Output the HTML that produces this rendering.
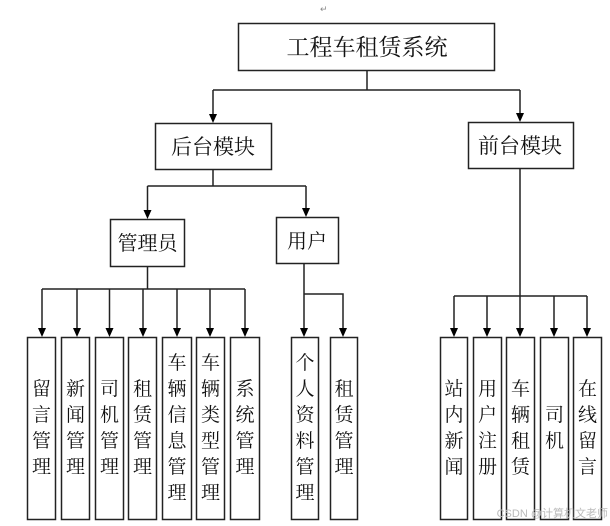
<!DOCTYPE html>
<html><head><meta charset="utf-8"><style>
html,body{margin:0;padding:0;background:#fff;}
svg{display:block;}
text{font-family:"Liberation Serif","Noto Serif CJK SC","Noto Sans CJK SC",serif;fill:#111;}
</style></head><body>
<svg width="610" height="526" viewBox="0 0 610 526" xmlns="http://www.w3.org/2000/svg">
<defs><marker id="a" markerWidth="8" markerHeight="10" refX="4" refY="10" orient="auto" markerUnits="userSpaceOnUse"><path d="M0,0 L8,0 L4,10 Z" transform="rotate(-90 4 5) translate(0 0)" fill="#000"/></marker></defs>
<g stroke="#222" stroke-width="1.5" fill="none">
<rect x="238.5" y="23.5" width="256" height="47"/>
<rect x="155.5" y="123.5" width="116" height="46"/>
<rect x="468.5" y="122.5" width="105" height="46"/>
<rect x="110.5" y="219.5" width="74" height="47"/>
<rect x="276.5" y="217.5" width="62" height="46"/>
<path d="M367 70V90M213 90H520"/>
<path d="M213 90V115M520 90V114"/>
<path d="M213 169V186M147.5 186H306M147.5 186V211M306 186V209"/>
<path d="M147.5 266V289M42 289H245"/>
<path d="M42 289V329M77 289V329M109.5 289V329M143 289V329M177 289V329M210 289V329M245 289V329"/>
<path d="M304 263V329M304 294H343V329"/>
<path d="M520 168V329M454 296H587M454 296V329M487 296V329M554 296V329M587 296V329"/>
<rect x="27.5" y="337.5" width="28" height="182"/>
<rect x="61.5" y="337.5" width="28" height="182"/>
<rect x="95.5" y="337.5" width="28" height="182"/>
<rect x="128.5" y="337.5" width="28" height="182"/>
<rect x="162.5" y="337.5" width="29" height="182"/>
<rect x="196.5" y="337.5" width="28" height="182"/>
<rect x="230.5" y="337.5" width="29" height="182"/>
<rect x="291.5" y="337.5" width="27" height="182"/>
<rect x="330.5" y="337.5" width="27" height="182"/>
<rect x="440.5" y="337.5" width="27" height="182"/>
<rect x="473.5" y="337.5" width="28" height="182"/>
<rect x="506.5" y="337.5" width="28" height="182"/>
<rect x="540.5" y="337.5" width="28" height="182"/>
<rect x="573.5" y="337.5" width="28" height="182"/>
</g>
<g fill="#000">
<path d="M209 114h8l-4 9z"/><path d="M516 113h8l-4 9z"/>
<path d="M143.5 210h8l-4 9z"/><path d="M302 208h8l-4 9z"/>
<path d="M38 328h8l-4 9z"/><path d="M73 328h8l-4 9z"/><path d="M105.5 328h8l-4 9z"/><path d="M139 328h8l-4 9z"/><path d="M173 328h8l-4 9z"/><path d="M206 328h8l-4 9z"/><path d="M241 328h8l-4 9z"/>
<path d="M300 328h8l-4 9z"/><path d="M339 328h8l-4 9z"/>
<path d="M450 328h8l-4 9z"/><path d="M483 328h8l-4 9z"/><path d="M516 328h8l-4 9z"/><path d="M550 328h8l-4 9z"/><path d="M583 328h8l-4 9z"/>
</g>
<text x="320" y="12" font-size="9" fill="#888" style="fill:#888">↵</text>
<text x="367" y="55" font-size="23" text-anchor="middle">工程车租赁系统</text>
<text x="213" y="154" font-size="21" text-anchor="middle">后台模块</text>
<text x="520" y="153" font-size="21" text-anchor="middle">前台模块</text>
<text x="147.5" y="250" font-size="20" text-anchor="middle">管理员</text>
<text x="307" y="248" font-size="20" text-anchor="middle">用户</text>
<g font-size="19" text-anchor="middle">
<text x="41.5" y="395">留<tspan x="41.5" dy="26">言</tspan><tspan x="41.5" dy="26">管</tspan><tspan x="41.5" dy="26">理</tspan></text>
<text x="75.5" y="395">新<tspan x="75.5" dy="26">闻</tspan><tspan x="75.5" dy="26">管</tspan><tspan x="75.5" dy="26">理</tspan></text>
<text x="109.5" y="395">司<tspan x="109.5" dy="26">机</tspan><tspan x="109.5" dy="26">管</tspan><tspan x="109.5" dy="26">理</tspan></text>
<text x="142.5" y="395">租<tspan x="142.5" dy="26">赁</tspan><tspan x="142.5" dy="26">管</tspan><tspan x="142.5" dy="26">理</tspan></text>
<text x="177" y="369">车<tspan x="177" dy="26">辆</tspan><tspan x="177" dy="26">信</tspan><tspan x="177" dy="26">息</tspan><tspan x="177" dy="26">管</tspan><tspan x="177" dy="26">理</tspan></text>
<text x="210.5" y="369">车<tspan x="210.5" dy="26">辆</tspan><tspan x="210.5" dy="26">类</tspan><tspan x="210.5" dy="26">型</tspan><tspan x="210.5" dy="26">管</tspan><tspan x="210.5" dy="26">理</tspan></text>
<text x="245" y="395">系<tspan x="245" dy="26">统</tspan><tspan x="245" dy="26">管</tspan><tspan x="245" dy="26">理</tspan></text>
<text x="305" y="369">个<tspan x="305" dy="26">人</tspan><tspan x="305" dy="26">资</tspan><tspan x="305" dy="26">料</tspan><tspan x="305" dy="26">管</tspan><tspan x="305" dy="26">理</tspan></text>
<text x="344" y="395">租<tspan x="344" dy="26">赁</tspan><tspan x="344" dy="26">管</tspan><tspan x="344" dy="26">理</tspan></text>
<text x="454" y="395">站<tspan x="454" dy="26">内</tspan><tspan x="454" dy="26">新</tspan><tspan x="454" dy="26">闻</tspan></text>
<text x="487.5" y="395">用<tspan x="487.5" dy="26">户</tspan><tspan x="487.5" dy="26">注</tspan><tspan x="487.5" dy="26">册</tspan></text>
<text x="520.5" y="395">车<tspan x="520.5" dy="26">辆</tspan><tspan x="520.5" dy="26">租</tspan><tspan x="520.5" dy="26">赁</tspan></text>
<text x="554.5" y="421">司<tspan x="554.5" dy="26">机</tspan></text>
<text x="587.5" y="395">在<tspan x="587.5" dy="26">线</tspan><tspan x="587.5" dy="26">留</tspan><tspan x="587.5" dy="26">言</tspan></text>
</g>
<text x="608" y="517" font-size="11" text-anchor="end" style="fill:#bbb;font-family:'Liberation Sans','Noto Sans CJK SC',sans-serif">CSDN @计算机文老师</text>
</svg>
</body></html>
